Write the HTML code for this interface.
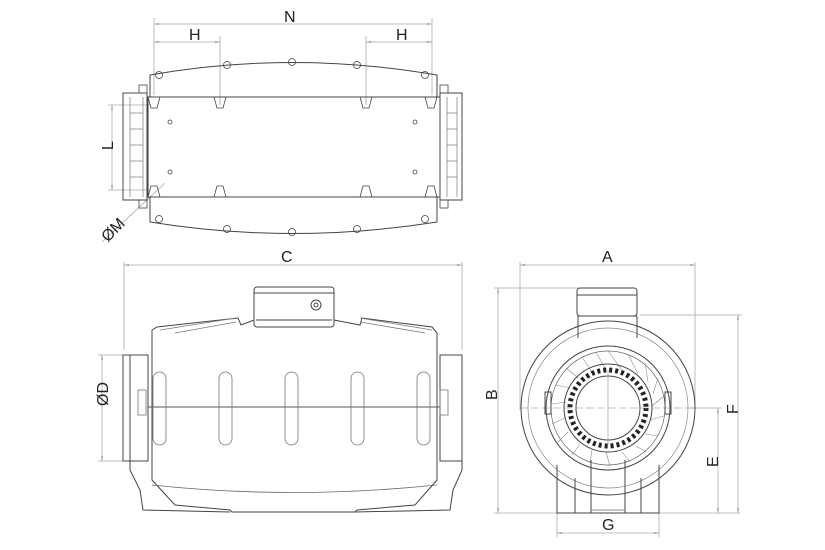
<!DOCTYPE html>
<html><head><meta charset="utf-8"><style>
html,body{margin:0;padding:0;background:#fff;}
svg{display:block;}
text{font-family:"Liberation Sans",sans-serif;font-size:16px;fill:#222;}
</style></head><body>
<svg width="825" height="550" viewBox="0 0 825 550" xmlns="http://www.w3.org/2000/svg">
<defs>
<marker id="a" viewBox="0 0 10 10" refX="10" refY="5" markerWidth="6" markerHeight="6" orient="auto-start-reverse"><path d="M0,3 L10,5 L0,7 z" fill="#999"/></marker>
</defs>
<g stroke="#aaa" stroke-width="0.8" fill="none">
<line x1="154" y1="24" x2="432" y2="24" marker-start="url(#a)" marker-end="url(#a)"/>
<line x1="154" y1="42" x2="220" y2="42" marker-start="url(#a)" marker-end="url(#a)"/>
<line x1="366" y1="42" x2="432" y2="42" marker-start="url(#a)" marker-end="url(#a)"/>
<line x1="154" y1="18" x2="154" y2="95"/><line x1="432" y1="18" x2="432" y2="95"/>
<line x1="220" y1="36" x2="220" y2="105"/><line x1="366" y1="36" x2="366" y2="105"/>
<line x1="112" y1="105" x2="112" y2="190" marker-start="url(#a)" marker-end="url(#a)"/>
<line x1="108" y1="105" x2="150" y2="105"/><line x1="108" y1="190" x2="150" y2="190"/>
<line x1="102" y1="242" x2="165" y2="183"/>
<line x1="124" y1="265" x2="462" y2="265" marker-start="url(#a)" marker-end="url(#a)"/>
<line x1="124" y1="262" x2="124" y2="350"/><line x1="462" y1="262" x2="462" y2="350"/>
<line x1="102" y1="355" x2="102" y2="461" marker-start="url(#a)" marker-end="url(#a)"/>
<line x1="98" y1="355" x2="124" y2="355"/><line x1="98" y1="461" x2="124" y2="461"/>
<line x1="520" y1="265" x2="695" y2="265" marker-start="url(#a)" marker-end="url(#a)"/>
<line x1="520" y1="262" x2="520" y2="410"/><line x1="695" y1="262" x2="695" y2="410"/>
<line x1="498" y1="288" x2="498" y2="513" marker-start="url(#a)" marker-end="url(#a)"/>
<line x1="494" y1="288" x2="580" y2="288"/><line x1="494" y1="513" x2="740" y2="513"/>
<line x1="738" y1="315" x2="738" y2="513" marker-start="url(#a)" marker-end="url(#a)"/>
<line x1="640" y1="315" x2="742" y2="315"/>
<line x1="718" y1="408" x2="718" y2="513" marker-start="url(#a)" marker-end="url(#a)"/>
<line x1="690" y1="408" x2="722" y2="408"/>
<line x1="557" y1="533" x2="659" y2="533" marker-start="url(#a)" marker-end="url(#a)"/>
<line x1="557" y1="513" x2="557" y2="537"/><line x1="659" y1="513" x2="659" y2="537"/>
</g>
<text x="284" y="22">N</text>
<text x="189" y="40">H</text><text x="396" y="40">H</text>
<text x="103" y="150" transform="rotate(-90 108 145)" >L</text>
<text x="100" y="236" transform="rotate(-45 112 230)">ØM</text>
<text x="281" y="262">C</text>
<text x="98" y="420" transform="rotate(-90 96 408)">ØD</text>
<text x="602" y="262">A</text>
<text x="488" y="401" transform="rotate(-90 492 396)">B</text>
<text x="728" y="414" transform="rotate(-90 733 409)">F</text>
<text x="708" y="467" transform="rotate(-90 713 462)">E</text>
<text x="602" y="530">G</text>

<g stroke="#444" stroke-width="1" fill="none">
<path d="M150,75 Q292,50 437,75 L437,97 L150,97 Z"/>
<path d="M150,197 L437,197 L437,222 Q292,245 150,222 Z"/>
<rect x="148" y="97" width="292" height="100"/>
<rect x="123" y="93" width="24" height="107"/>
<rect x="440" y="93" width="22" height="107"/>
<g stroke="#777" stroke-width="0.7">
<line x1="130" y1="97" x2="130" y2="197"/><line x1="143" y1="97" x2="143" y2="197"/>
<line x1="447" y1="97" x2="447" y2="197"/><line x1="457" y1="97" x2="457" y2="197"/>
<line x1="130" y1="113" x2="143" y2="113"/><line x1="130" y1="129" x2="143" y2="129"/><line x1="130" y1="145" x2="143" y2="145"/><line x1="130" y1="161" x2="143" y2="161"/><line x1="130" y1="177" x2="143" y2="177"/>
<line x1="447" y1="113" x2="457" y2="113"/><line x1="447" y1="129" x2="457" y2="129"/><line x1="447" y1="145" x2="457" y2="145"/><line x1="447" y1="161" x2="457" y2="161"/><line x1="447" y1="177" x2="457" y2="177"/>
</g>
<g stroke-width="0.8">
<circle cx="159" cy="75" r="3.5"/><circle cx="227" cy="65" r="3.5"/><circle cx="292" cy="62" r="3.5"/><circle cx="357" cy="65" r="3.5"/><circle cx="425" cy="75" r="3.5"/>
<circle cx="159" cy="219" r="3.5"/><circle cx="227" cy="229" r="3.5"/><circle cx="292" cy="232" r="3.5"/><circle cx="357" cy="229" r="3.5"/><circle cx="425" cy="219" r="3.5"/>
<path d="M148,97 L160,97 L157,108 L151,108 Z M214,97 L226,97 L223,108 L217,108 Z M360,97 L372,97 L369,108 L363,108 Z M425,97 L437,97 L434,108 L428,108 Z"/>
<path d="M151,186 L157,186 L160,197 L148,197 Z M217,186 L223,186 L226,197 L214,197 Z M363,186 L369,186 L372,197 L360,197 Z M428,186 L434,186 L437,197 L425,197 Z"/>
<circle cx="170" cy="122" r="2"/><circle cx="170" cy="172" r="2"/><circle cx="415" cy="122" r="2"/><circle cx="415" cy="172" r="2"/>
<rect x="139" y="85" width="8" height="8"/><rect x="139" y="200" width="8" height="8"/><rect x="440" y="85" width="8" height="8"/><rect x="440" y="200" width="8" height="8"/>
</g>

<rect x="254" y="287" width="80" height="40" rx="3"/>
<line x1="254" y1="293" x2="334" y2="293"/><line x1="256" y1="320" x2="332" y2="320"/>
<circle cx="316" cy="305" r="5"/><circle cx="316" cy="305" r="2"/>
<path d="M152,330 L157,327 L238,318 L241,325 L254,320 M334,320 L360,325 L362,318 L432,327 L437,333"/>
<path d="M152,330 L152,480 L175,505 L230,510 L232,512 L355,512 L357,510 L415,505 L437,480 L437,333"/>
<path d="M130,355 L130,470 L140,490 L143,510 L230,512 M355,512 L450,510 L453,490 L462,470 L462,355"/>
<path d="M152,485 Q292,500 437,485" stroke="#666" stroke-width="0.8"/>
<rect x="123" y="355" width="25" height="106"/>
<rect x="440" y="355" width="22" height="106"/>
<line x1="148" y1="407" x2="440" y2="407" stroke="#555"/>
<g stroke="#777" stroke-width="0.8">
<rect x="153" y="372" width="13" height="73" rx="6.5"/>
<rect x="219" y="372" width="13" height="73" rx="6.5"/>
<rect x="285" y="372" width="13" height="73" rx="6.5"/>
<rect x="351" y="372" width="13" height="73" rx="6.5"/>
<rect x="417" y="372" width="13" height="73" rx="6.5"/>
<rect x="138" y="390" width="8" height="25"/><rect x="440" y="390" width="8" height="25"/>
<path d="M160,330 L236,318 M175,333 L236,322 M360,322 L425,333 M360,318 L432,330"/>
</g>

<circle cx="608" cy="408" r="87"/>
<circle cx="608" cy="408" r="80" stroke="#888" stroke-width="0.7"/>
<rect x="577" y="288" width="60" height="28" rx="3" fill="#fff"/>
<line x1="577" y1="295" x2="637" y2="295"/>
<path d="M578,316 L578,338 M637,316 L637,338" />
<path d="M578,316 L637,316"/>
<circle cx="608" cy="408" r="62" fill="#fff"/>
<circle cx="608" cy="408" r="57" stroke="#666" stroke-width="0.7"/>
<g stroke="#888" stroke-width="0.6">
<path d="M608,351 L622,370 M628,354 L638,374 M645,363 L648,382 M658,378 L653,394 M664,396 L652,406 M664,416 L650,420 M658,436 L645,434 M646,452 L636,446 M630,462 L622,452 M610,466 L606,452 M590,463 L592,450 M572,455 L580,444 M558,442 L568,432 M552,424 L565,418 M552,404 L566,402 M556,385 L570,388 M566,368 L578,378 M582,357 L592,372 M596,352 L605,368"/>
</g>
<circle cx="608" cy="408" r="44"/>
<circle cx="608" cy="408" r="32"/>
<circle cx="608" cy="408" r="38" stroke="#222" stroke-width="5" stroke-dasharray="3 3"/>
<line x1="520" y1="408" x2="695" y2="408" stroke="#888" stroke-width="0.6" stroke-dasharray="8 3"/>
<line x1="608" y1="370" x2="608" y2="446" stroke="#888" stroke-width="0.6"/>
<path d="M557,465 L557,513 L659,513 L659,465"/>
<path d="M575,478 L575,513 M591,460 L591,513 M625,460 L625,513 M641,478 L641,513"/>
<line x1="591" y1="510" x2="625" y2="510" stroke="#666" stroke-width="0.7"/>
<rect x="545" y="392" width="6" height="22"/><rect x="665" y="392" width="6" height="22"/>
</g>
</svg>
</body></html>
